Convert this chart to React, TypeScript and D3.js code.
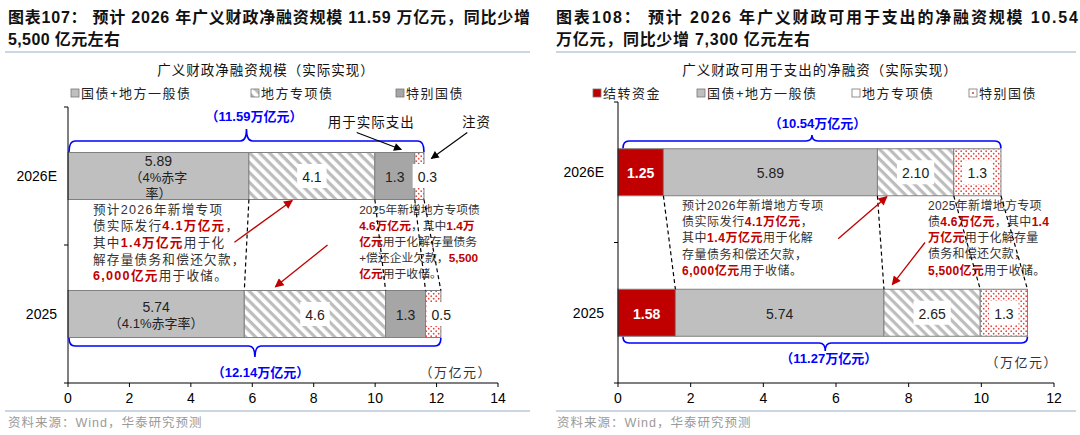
import React from 'react';
import * as d3 from 'd3';

const CATEGORIES = ['2026E', '2025'];

// 图表107 广义财政净融资规模（万亿元）
const L_GENERAL = [5.89, 5.74];
const L_LOCAL_SPECIAL = [4.1, 4.6];
const L_SPECIAL_SPEND = [1.3, 1.3];
const L_SPECIAL_INJECT = [0.3, 0.5];
const L_TOTALS = ['11.59', '12.14'];
const L_TICKS = [0, 2, 4, 6, 8, 10, 12, 14];
const L_GENERAL_LABELS = [['5.89', '（4%赤字', '率）'], ['5.74', '（4.1%赤字率）']];

// 图表108 广义财政可用于支出的净融资（万亿元）
const R_CARRY = [1.25, 1.58];
const R_GENERAL = [5.89, 5.74];
const R_LOCAL_SPECIAL = [2.1, 2.65];
const R_SPECIAL = [1.3, 1.3];
const R_TOTALS = ['10.54', '11.27'];
const R_TICKS = [0, 2, 4, 6, 8, 10, 12];

type Seg = [string, boolean?];

const L_NOTE_2026: Seg[][] = [
  [['预计2026年新增专项']],
  [['债实际发行'], ['4.1万亿元', true], ['，']],
  [['其中'], ['1.4万亿元', true], ['用于化']],
  [['解存量债务和偿还欠款，']],
  [['6,000亿元', true], ['用于收储。']],
];
const L_NOTE_2025: Seg[][] = [
  [['2025年新增地方专项债']],
  [['4.6万亿元', true], ['，其中'], ['1.4万', true]],
  [['亿元', true], ['用于化解存量债务']],
  [['+偿还企业欠款，'], ['5,500', true]],
  [['亿元', true], ['用于收储。']],
];
const R_NOTE_2026: Seg[][] = [
  [['预计2026年新增地方专项']],
  [['债实际发行'], ['4.1万亿元', true], ['，']],
  [['其中'], ['1.4万亿元', true], ['用于化解']],
  [['存量债务和偿还欠款，']],
  [['6,000亿元', true], ['用于收储。']],
];
const R_NOTE_2025: Seg[][] = [
  [['2025年新增地方专项']],
  [['债'], ['4.6万亿元', true], ['，其中'], ['1.4', true]],
  [['万亿元', true], ['用于化解存量']],
  [['债务和偿还欠款，']],
  [['5,500亿元', true], ['用于收储。']],
];

const FONT = "'Liberation Sans', Arial, 'Noto Sans CJK SC', sans-serif";
const RED = '#c00000';
const BLUE = '#0000ff';
const BH = 47;

const textW = (s: string, fs: number) =>
  [...s].reduce((a, c) => a + (/[0-9]/.test(c) ? fs * 0.556 : c === '.' ? fs * 0.278 : fs), 0);

function brace(x0: number, x1: number, yEnd: number, yLine: number, yTip: number) {
  const cx = (x0 + x1) / 2;
  const r = 6;
  return `M${x0},${yEnd} Q${x0},${yLine} ${x0 + r},${yLine} L${cx - r},${yLine} Q${cx},${yLine} ${cx},${yTip} Q${cx},${yLine} ${cx + r},${yLine} L${x1 - r},${yLine} Q${x1},${yLine} ${x1},${yEnd}`;
}

function Note({ lines, x, y, step, fs, ls }: { lines: Seg[][]; x: number; y: number; step: number; fs: number; ls: number }) {
  return (
    <g fontSize={fs} letterSpacing={ls} fill="#333">
      {lines.map((line, i) => (
        <text key={i} x={x} y={y + i * step} dominantBaseline="central">
          {line.map(([t, red], j) => (
            <tspan key={j} fill={red ? RED : '#333'} fontWeight={red ? 700 : 400}>{t}</tspan>
          ))}
        </text>
      ))}
    </g>
  );
}

type SeriesCfg = { key: string; values: number[]; fill: string; labels: string[][]; color: string; bold?: boolean; box?: boolean };

type PanelCfg = {
  x0: number; x1: number; max: number; top: number; bottom: number; ticks: number[];
  series: SeriesCfg[]; totals: string[]; labelRight: number;
  topBrace: { start: number; line: number; tip: number; label: number };
  botBrace: { start: number; line: number; tip: number; label: number };
  unitX: number; unitY: number;
  notes: { lines: Seg[][]; x: number; step: number; fs: number; ls: number }[];
  arrows: { from: [number, number]; to: [number, number] }[];
  extra?: (x: d3.ScaleLinear<number, number>, barTop: number) => React.ReactNode;
};

function Panel({ cfg }: { cfg: PanelCfg }) {
  const x = d3.scaleLinear().domain([0, cfg.max]).range([cfg.x0, cfg.x1]);
  const y = d3.scalePoint<string>().domain(CATEGORIES).range([cfg.top, cfg.bottom]).padding(0.5);
  const rows = CATEGORIES.map((c, i) => {
    const r: any = { cat: c };
    cfg.series.forEach(s => (r[s.key] = s.values[i]));
    return r;
  });
  const stack = d3.stack<any>().keys(cfg.series.map(s => s.key))(rows);
  const gapTop = y('2026E')! + BH / 2;
  const gapBot = y('2025')! - BH / 2;
  const gy = d3.scaleLinear().domain([0, 1]).range([gapTop, gapBot]);
  const ends = (i: number) => stack.map(l => l[i][1]);
  const e26 = ends(0), e25 = ends(1);
  const tot26 = e26[e26.length - 1], tot25 = e25[e25.length - 1];
  const step = y.step();

  return (
    <g fontFamily={FONT}>
      {/* bars */}
      {stack.map((layer, si) => {
        const s = cfg.series[si];
        return (
          <g key={s.key}>
            {layer.map((d, i) => (
              <rect key={i} x={x(d[0])} y={y(CATEGORIES[i])! - BH / 2} width={x(d[1]) - x(d[0])} height={BH}
                fill={s.fill} stroke="#808080" strokeWidth={1} />
            ))}
          </g>
        );
      })}
      {/* labels */}
      {stack.map((layer, si) => {
        const s = cfg.series[si];
        return (
          <g key={s.key + 'l'}>
            {layer.map((d, i) => {
              const lines = s.labels[i];
              const w = x(d[1]) - x(d[0]);
              const cx = (x(d[0]) + x(d[1])) / 2 + (w < 20 ? 8 : 0);
              const cy = y(CATEGORIES[i])!;
              const sp = lines.length > 2 ? 16 : 17;
              const tw = Math.max(...lines.map(t => textW(t, 14)));
              return (
                <g key={i}>
                  {s.box && <rect x={cx - tw / 2 - 5} y={cy - 12} width={tw + 10} height={24} fill="#fff" />}
                  {lines.map((t, k) => (
                    <text key={k} x={cx} y={cy + (k - (lines.length - 1) / 2) * sp + 1} textAnchor="middle"
                      dominantBaseline="central" fontSize={k === 0 ? 14 : 13} fill={s.color}
                      fontWeight={s.bold ? 700 : 400}>{t}</text>
                  ))}
                </g>
              );
            })}
          </g>
        );
      })}
      {/* axes */}
      <line x1={cfg.x0} x2={cfg.x0} y1={cfg.top} y2={cfg.bottom} stroke="#000" />
      {[cfg.top, cfg.top + step, cfg.bottom].map((v, i) => (
        <line key={i} x1={cfg.x0 - 4} x2={cfg.x0} y1={v} y2={v} stroke="#000" />
      ))}
      <line x1={cfg.x0} x2={cfg.x1} y1={cfg.bottom} y2={cfg.bottom} stroke="#000" />
      {cfg.ticks.map(t => (
        <g key={t}>
          <line x1={x(t)} x2={x(t)} y1={cfg.bottom} y2={cfg.bottom + 4} stroke="#000" />
          <text x={x(t)} y={cfg.bottom + 15} textAnchor="middle" dominantBaseline="central" fontSize={14} fill="#000">{t}</text>
        </g>
      ))}
      {CATEGORIES.map(c => (
        <text key={c} x={cfg.labelRight} y={y(c)} textAnchor="end" dominantBaseline="central" fontSize={14} fill="#000">{c}</text>
      ))}
      {/* braces */}
      <path d={brace(x(0) + cfg.topBrace.start, x(tot26), gapTop - BH - 0.5, cfg.topBrace.line, cfg.topBrace.tip)}
        fill="none" stroke={BLUE} strokeWidth={1.6} />
      <text x={(x(0) + x(tot26)) / 2 + 8} y={cfg.topBrace.label} textAnchor="middle" dominantBaseline="central"
        fontSize={13} fontWeight={700} fill={BLUE}>（{cfg.totals[0]}万亿元）</text>
      <path d={brace(x(0) + cfg.botBrace.start, x(tot25), gapBot + BH + 0.5, cfg.botBrace.line, cfg.botBrace.tip)}
        fill="none" stroke={BLUE} strokeWidth={1.6} />
      <text x={(x(0) + x(tot25)) / 2 + 6} y={cfg.botBrace.label} textAnchor="middle" dominantBaseline="central"
        fontSize={13} fontWeight={700} fill={BLUE}>（{cfg.totals[1]}万亿元）</text>
      <text x={cfg.unitX} y={cfg.unitY} textAnchor="end" dominantBaseline="central" fontSize={13} letterSpacing={1.5} fill="#333">（万亿元）</text>
      {/* notes */}
      {cfg.notes.map((n, i) => (
        <Note key={i} lines={n.lines} x={x(n.x)} y={gy(0) + 10} step={n.step} fs={n.fs} ls={n.ls} />
      ))}
      {/* dashed connectors */}
      {e26.map((v, i) => (
        <line key={i} x1={x(v)} y1={gapTop} x2={x(e25[i])} y2={gapBot} stroke="#000" strokeWidth={1.2} strokeDasharray="4 3" />
      ))}
      {/* arrows */}
      {cfg.arrows.map((a, i) => (
        <line key={i} x1={x(a.from[0])} y1={gy(a.from[1])} x2={x(a.to[0])} y2={gy(a.to[1])}
          stroke={RED} strokeWidth={1.3} markerEnd="url(#arrRed)" />
      ))}
      {cfg.extra && cfg.extra(x, gapTop - BH)}
    </g>
  );
}

const LEFT: PanelCfg = {
  x0: 68, x1: 498, max: 14, top: 107, bottom: 383, ticks: L_TICKS, labelRight: 57,
  series: [
    { key: 'general', values: L_GENERAL, fill: '#bfbfbf', labels: L_GENERAL_LABELS, color: '#222' },
    { key: 'local', values: L_LOCAL_SPECIAL, fill: 'url(#hatch)', labels: L_LOCAL_SPECIAL.map(v => [String(v)]), color: '#222', box: true },
    { key: 'spend', values: L_SPECIAL_SPEND, fill: '#a6a6a6', labels: L_SPECIAL_SPEND.map(v => [String(v)]), color: '#222' },
    { key: 'inject', values: L_SPECIAL_INJECT, fill: 'url(#dots)', labels: L_SPECIAL_INJECT.map(v => [String(v)]), color: '#222', box: true },
  ],
  totals: L_TOTALS,
  topBrace: { start: 1, line: 141, tip: 129, label: 116 },
  botBrace: { start: 1, line: 346, tip: 357, label: 372 },
  unitX: 492, unitY: 372,
  notes: [
    { lines: L_NOTE_2026, x: 0.81, step: 16.7, fs: 12.6, ls: 1.3 },
    { lines: L_NOTE_2025, x: 9.48, step: 16.2, fs: 11.8, ls: 0 },
  ],
  arrows: [
    { from: [5.42, 0.47], to: [7.3, 0.01] },
    { from: [8.45, 0.5], to: [6.75, 0.96] },
  ],
  extra: (x, barTop) => (
    <g fontSize={13.5} fill="#111" letterSpacing={1}>
      <text x={x(9.87)} y={barTop - 30} textAnchor="middle" dominantBaseline="central">用于实际支出</text>
      <line x1={x(9.4)} y1={barTop - 20} x2={x(10.85)} y2={barTop - 3} stroke="#000" strokeWidth={1.1} markerEnd="url(#arrBlack)" />
      <text x={x(13.3)} y={barTop - 30} textAnchor="middle" dominantBaseline="central">注资</text>
      <line x1={x(13.0)} y1={barTop - 20} x2={x(11.83)} y2={barTop + 6} stroke="#000" strokeWidth={1.1} markerEnd="url(#arrBlack)" />
    </g>
  ),
};

const RIGHT: PanelCfg = {
  x0: 618, x1: 1054, max: 12, top: 102, bottom: 383, ticks: R_TICKS, labelRight: 604,
  series: [
    { key: 'carry', values: R_CARRY, fill: RED, labels: R_CARRY.map(v => [v.toFixed(2)]), color: '#fff', bold: true },
    { key: 'general', values: R_GENERAL, fill: '#bfbfbf', labels: R_GENERAL.map(v => [v.toFixed(2)]), color: '#222' },
    { key: 'local', values: R_LOCAL_SPECIAL, fill: 'url(#hatch)', labels: R_LOCAL_SPECIAL.map(v => [v.toFixed(2)]), color: '#222', box: true },
    { key: 'special', values: R_SPECIAL, fill: 'url(#dots)', labels: R_SPECIAL.map(v => [String(v)]), color: '#222', box: true },
  ],
  totals: R_TOTALS,
  topBrace: { start: 5, line: 141, tip: 135, label: 123 },
  botBrace: { start: 5, line: 343, tip: 351, label: 358 },
  unitX: 1058, unitY: 362,
  notes: [
    { lines: R_NOTE_2026, x: 1.76, step: 16.3, fs: 12, ls: 0.55 },
    { lines: R_NOTE_2025, x: 8.53, step: 16.2, fs: 12, ls: 0.3 },
  ],
  arrows: [
    { from: [6.06, 0.46], to: [7.4, 0.01] },
    { from: [8.45, 0.5], to: [7.55, 0.95] },
  ],
};

function Legend({ items, y }: { items: { x: number; fill: string; label: string }[]; y: number }) {
  return (
    <g fontFamily={FONT} fontSize={13} letterSpacing={1.5} fill="#222">
      {items.map(it => (
        <g key={it.label}>
          <rect x={it.x - 4} y={y - 4} width={8} height={8} fill={it.fill} stroke="#777" strokeWidth={0.8} />
          <text x={it.x + 6} y={y} dominantBaseline="central">{it.label}</text>
        </g>
      ))}
    </g>
  );
}

export default function App() {
  return (
    <svg width={1080} height={435} style={{ position: 'absolute', left: 0, top: 0, background: '#fff' }} fontFamily={FONT}>
      <defs>
        <pattern id="hatch" width="7" height="7" patternUnits="userSpaceOnUse" patternTransform="rotate(45)">
          <rect width="7" height="7" fill="#fff" />
          <rect width="7" height="3.2" fill="#bdbdbd" />
        </pattern>
        <pattern id="dots" width="5" height="5" patternUnits="userSpaceOnUse">
          <rect width="5" height="5" fill="#fff" />
          <circle cx="1.2" cy="1.2" r="0.85" fill="#e8403a" />
          <circle cx="3.7" cy="3.7" r="0.85" fill="#e8403a" />
        </pattern>
        <pattern id="dotSwatch" width="8" height="8" patternUnits="userSpaceOnUse" x="969" y="89">
          <rect width="8" height="8" fill="#fff" />
          <circle cx="4" cy="4" r="1.1" fill="#e8403a" />
        </pattern>
        <marker id="arrRed" viewBox="0 0 10 10" refX="9" refY="5" markerWidth="11" markerHeight="9" markerUnits="userSpaceOnUse" orient="auto">
          <path d="M0,0 L10,5 L0,10 z" fill={RED} />
        </marker>
        <marker id="arrBlack" viewBox="0 0 10 10" refX="9" refY="5" markerWidth="10" markerHeight="8" markerUnits="userSpaceOnUse" orient="auto">
          <path d="M0,0 L10,5 L0,10 z" fill="#000" />
        </marker>
      </defs>

      {/* titles */}
      <g fontWeight={700} fontSize={16} fill="#111">
        <text x={8} y={17} dominantBaseline="central" textLength={522} lengthAdjust="spacing">图表107： 预计 2026 年广义财政净融资规模 11.59 万亿元，同比少增</text>
        <text x={8} y={39} dominantBaseline="central" textLength={112} lengthAdjust="spacing">5,500 亿元左右</text>
        <text x={556} y={17} dominantBaseline="central" textLength={522} lengthAdjust="spacing">图表108： 预计 2026 年广义财政可用于支出的净融资规模 10.54</text>
        <text x={556} y={39} dominantBaseline="central" textLength={254} lengthAdjust="spacing">万亿元，同比少增 7,300 亿元左右</text>
      </g>
      <line x1={5} x2={530} y1={52} y2={52} stroke="#b8c8da" strokeWidth={1.5} />
      <line x1={556} x2={1076} y1={52} y2={52} stroke="#b8c8da" strokeWidth={1.5} />
      <line x1={5} x2={530} y1={411} y2={411} stroke="#b8c8da" strokeWidth={1.5} />
      <line x1={556} x2={1076} y1={411} y2={411} stroke="#b8c8da" strokeWidth={1.5} />

      <g fontSize={13.5} fill="#111" letterSpacing={1}>
        <text x={266} y={70} textAnchor="middle" dominantBaseline="central">广义财政净融资规模（实际实现）</text>
        <text x={820} y={70} textAnchor="middle" dominantBaseline="central">广义财政可用于支出的净融资（实际实现）</text>
      </g>

      <Legend y={93} items={[
        { x: 75, fill: '#bfbfbf', label: '国债+地方一般债' },
        { x: 255, fill: 'url(#hatch)', label: '地方专项债' },
        { x: 400, fill: '#a6a6a6', label: '特别国债' },
      ]} />
      <Legend y={93} items={[
        { x: 597, fill: RED, label: '结转资金' },
        { x: 701, fill: '#bfbfbf', label: '国债+地方一般债' },
        { x: 856, fill: '#fff', label: '地方专项债' },
        { x: 973, fill: 'url(#dotSwatch)', label: '特别国债' },
      ]} />

      <Panel cfg={LEFT} />
      <Panel cfg={RIGHT} />

      <g fontSize={12.5} fill="#9a9a9a" letterSpacing={1}>
        <text x={8} y={423} dominantBaseline="central">资料来源：Wind，华泰研究预测</text>
        <text x={557} y={423} dominantBaseline="central">资料来源：Wind，华泰研究预测</text>
      </g>
    </svg>
  );
}
